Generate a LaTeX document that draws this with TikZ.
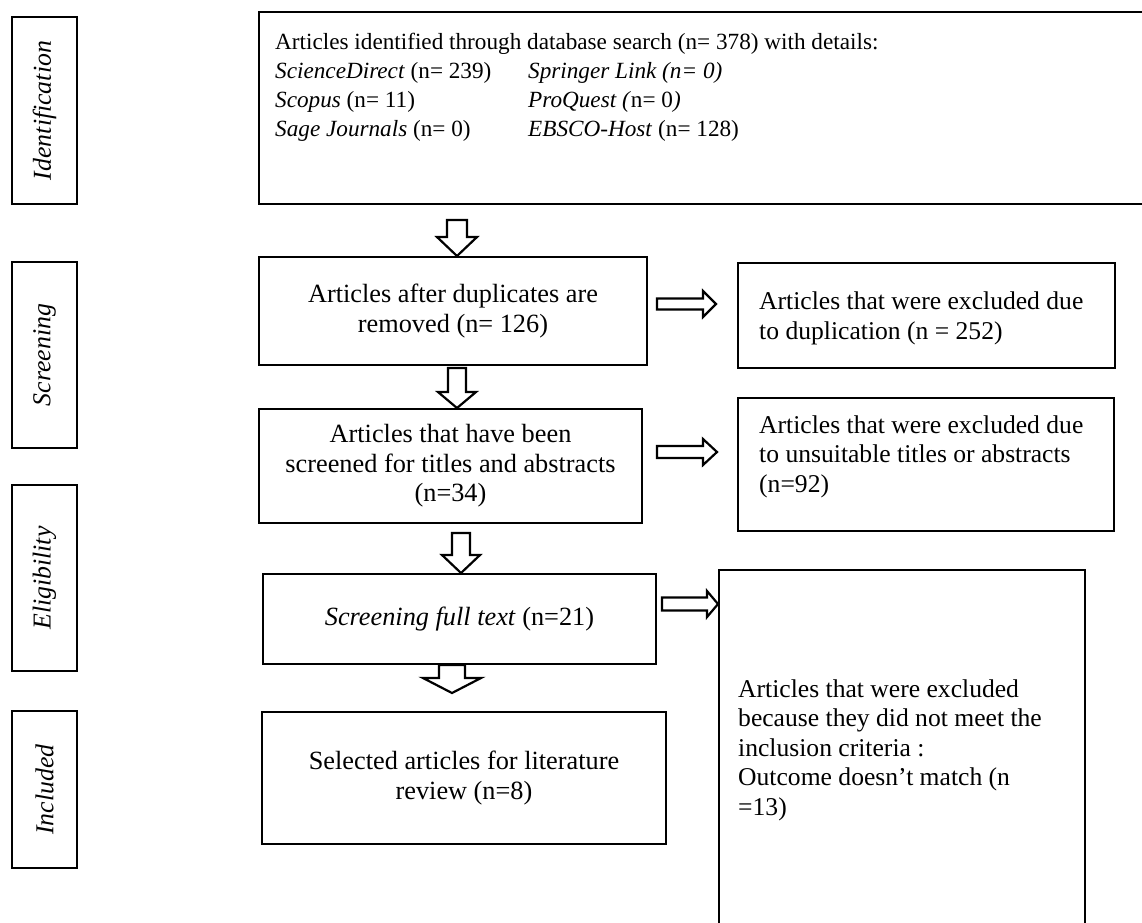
\documentclass[tikz,border=0pt]{standalone}
\usepackage{fontspec}
\setmainfont{Liberation Serif}
\usetikzlibrary{calc}
\tikzset{
  every node/.style={font=\fontsize{26.3}{29.5}\selectfont},
  box/.style={draw, line width=2pt, inner sep=0pt, anchor=north west, align=center},
  exbox/.style={draw, line width=2pt, inner sep=0pt, anchor=north west},
  extext/.style={align=left, inner sep=0pt, font=\fontsize{25.6}{29.5}\selectfont},
  sidebox/.style={draw, line width=2.4pt, rotate=90, inner sep=0pt, font=\fontsize{25.8}{29.5}\selectfont\itshape},
  fatarrow/.style={draw, line width=2.2pt, fill=white, line join=miter},
}
\newcommand\vfat[5]{\draw[fatarrow] ($(#1)+(-#3,0)$) -- ($(#2)+(-#3,-#5)$) -- ($(#2)+(-#4,-#5)$) -- (#2) -- ($(#2)+(#4,-#5)$) -- ($(#2)+(#3,-#5)$) -- ($(#1)+(#3,0)$) -- cycle;}
\newcommand\hfat[5]{\draw[fatarrow] ($(#1)+(0,-#3)$) -- ($(#2)+(-#5,-#3)$) -- ($(#2)+(-#5,-#4)$) -- (#2) -- ($(#2)+(-#5,#4)$) -- ($(#2)+(-#5,#3)$) -- ($(#1)+(0,#3)$) -- cycle;}
\begin{document}
\begin{tikzpicture}[x=1pt,y=-1pt]
\useasboundingbox (0,0) rectangle (1142,922);

% stage labels
\node[sidebox, minimum width=187pt, minimum height=65pt] (s1) at (44.5,110.5) {Identification};
\node[sidebox, minimum width=186pt, minimum height=65pt] (s2) at (44.5,355) {Screening};
\node[sidebox, minimum width=186pt, minimum height=65pt] (s3) at (44.5,578) {Eligibility};
\node[sidebox, minimum width=157pt, minimum height=65pt] (s4) at (44.5,789.5) {Included};

% identification box
\node[box, minimum width=900pt, minimum height=192pt] (b1) at (258,11) {};
\node[anchor=north west, align=left, inner sep=0pt, font=\fontsize{23.2}{29.3}\selectfont] (b1t) at (275,32.5) {%
Articles identified through database search (n= 378) with details:\\
\makebox[253pt][l]{\textit{ScienceDirect} (n= 239)}\textit{Springer Link (n= 0)}\\
\makebox[253pt][l]{\textit{Scopus} (n= 11)}\textit{ProQuest (}n= 0\textit{)}\\
\makebox[253pt][l]{\textit{Sage Journals} (n= 0)}\textit{EBSCO-Host} (n= 128)};

% main column
\node[box, minimum width=388pt, minimum height=108pt] (b2) at (258,256) {Articles after duplicates are\\removed (n= 126)};
\node[box, minimum width=383pt, minimum height=114pt] (b3) at (258,408) {Articles that have been\\screened for titles and abstracts\\(n=34)};
\node[box, minimum width=393pt, minimum height=90pt] (b4) at (262,573) {\textit{Screening full text} (n=21)};
\node[box, minimum width=404pt, minimum height=132pt] (b5) at (261,711) {Selected articles for literature\\review (n=8)};

% exclusion column
\node[exbox, minimum width=377pt, minimum height=105pt] (e1) at (737,262) {};
\node[extext, anchor=west] (e1t) at ($(e1.west)+(22,3)$) {Articles that were excluded due\\to duplication (n = 252)};
\node[exbox, minimum width=376pt, minimum height=133pt] (e2) at (737,397) {};
\node[extext, anchor=west] (e2t) at ($(e2.west)+(22,-8)$) {Articles that were excluded due\\to unsuitable titles or abstracts\\(n=92)};
\node[exbox, minimum width=366pt, minimum height=360pt] (e3) at (718,569) {};
\node[extext, anchor=west] (e3t) at ($(e3.west)+(20,0)$) {Articles that were excluded\\because they did not meet the\\inclusion criteria :\\Outcome doesn’t match (n\\=13)};

% arrow axes
\coordinate (ax1) at (457,0);
\coordinate (ax2) at (457,0);
\coordinate (ax3) at (461,0);
\coordinate (ax4) at (452,0);
\coordinate (ay1) at (0,304);
\coordinate (ay2) at (0,452);
\coordinate (ay3) at (0,604);

% down arrows
\coordinate (d1s) at ($(b1.south -| ax1)+(0,15)$);
\coordinate (d1t) at (b2.north -| ax1);
\vfat{d1s}{d1t}{10}{20}{19}
\coordinate (d2s) at ($(b2.south -| ax2)+(0,2)$);
\coordinate (d2t) at (b3.north -| ax2);
\vfat{d2s}{d2t}{9}{19}{16}
\coordinate (d3s) at ($(b3.south -| ax3)+(0,9)$);
\coordinate (d3t) at (b4.north -| ax3);
\vfat{d3s}{d3t}{9}{19}{18}
\coordinate (d4s) at (b4.south -| ax4);
\coordinate (d4t) at ($(b5.north -| ax4)+(0,-18)$);
\vfat{d4s}{d4t}{13}{29}{15}

% right arrows
\coordinate (r1s) at ($(b2.east |- ay1)+(9,0)$);
\coordinate (r1t) at ($(e1.west |- ay1)+(-21,0)$);
\hfat{r1s}{r1t}{5.5}{13}{13}
\coordinate (r2s) at ($(b3.east |- ay2)+(14,0)$);
\coordinate (r2t) at ($(e2.west |- ay2)+(-20,0)$);
\hfat{r2s}{r2t}{6}{13}{14}
\coordinate (r3s) at ($(b4.east |- ay3)+(5,0)$);
\coordinate (r3t) at (e3.west |- ay3);
\hfat{r3s}{r3t}{6.5}{13}{11}
\end{tikzpicture}
\end{document}
